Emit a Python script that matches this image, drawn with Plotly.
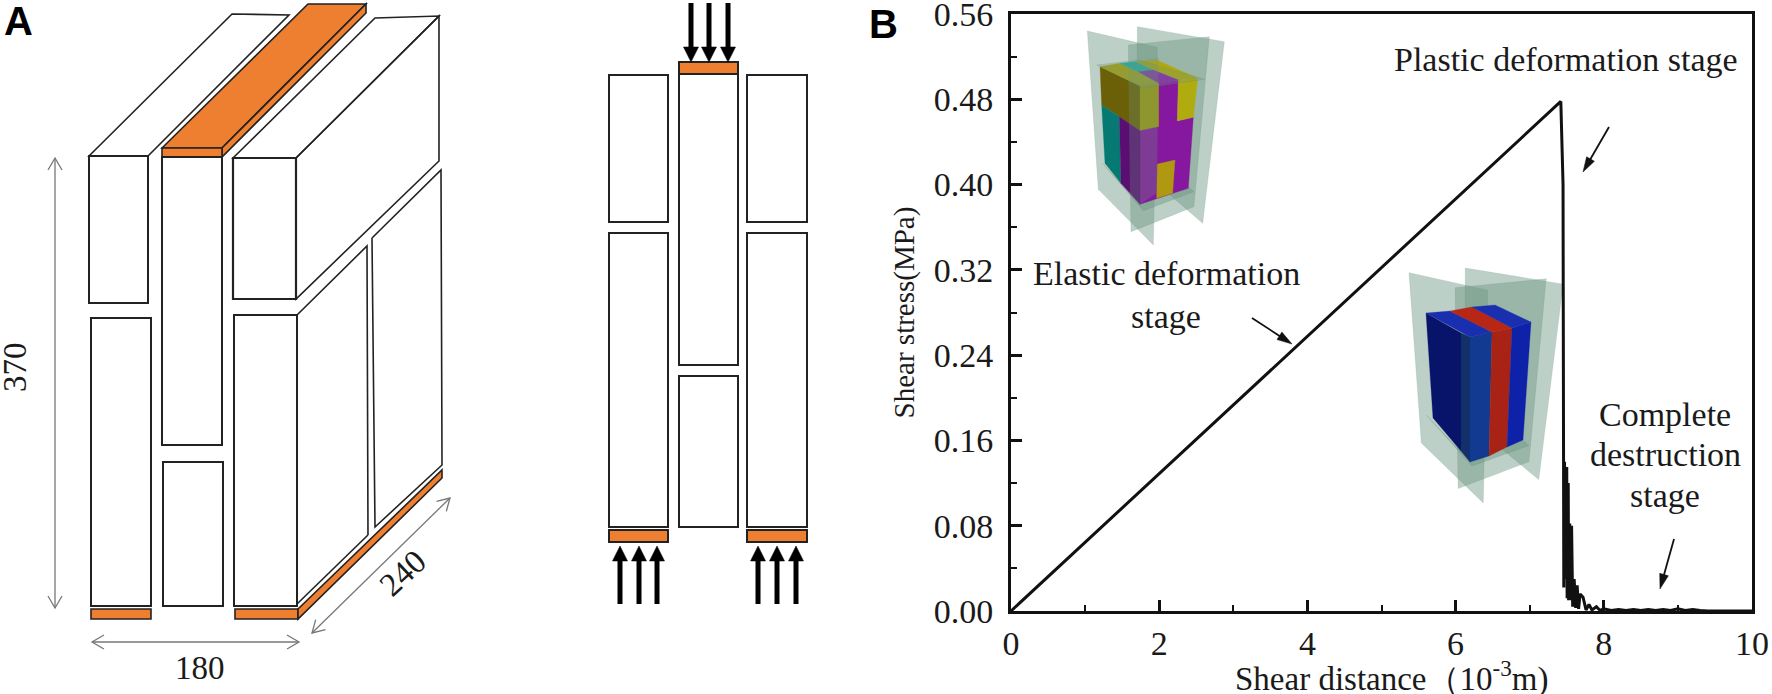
import plotly.graph_objects as go

W, H = 1772, 694

# ---------- chart data ----------
shear_distance = [0, 1.0, 2.0, 3.0, 4.0, 5.0, 6.0, 7.0, 7.42, 7.45, 7.46, 7.47, 7.485, 7.5, 7.505, 7.52, 7.525,
                  7.54, 7.55, 7.565, 7.58, 7.6, 7.62, 7.64, 7.66, 7.68, 7.72, 7.76, 7.8, 7.84, 7.9, 7.95, 8.0,
                  8.1, 8.2, 8.3, 8.4, 8.5, 8.6, 8.7, 8.8, 8.9, 9.0, 9.1, 9.2, 9.3, 9.4, 10.0]
shear_stress = [0, 0.0645, 0.129, 0.1935, 0.258, 0.3225, 0.387, 0.4515, 0.478, 0.40, 0.022, 0.14, 0.03, 0.135, 0.012,
                0.12, 0.01, 0.082, 0.01, 0.08, 0.004, 0.03, 0.003, 0.024, 0.002, 0.016, 0.013, 0.001, 0.006, 0.001, 0.004,
                0.0005, 0.002, 0.0005, 0.0015, 0.0005, 0.0015, 0.0005, 0.0015, 0.0005, 0.0015, 0.0005, 0.002, 0.0005, 0.0015, 0.0005, 0.0, 0.0]
x_ticks = [0, 2, 4, 6, 8, 10]
y_ticks = [0.00, 0.08, 0.16, 0.24, 0.32, 0.40, 0.48, 0.56]

SERIF = "Liberation Serif"
ORANGE = "#EE7F31"
INK = "#222222"
PLATE = "rgba(108,150,130,0.45)"

shapes, notes = [], []


def px(x):
    return x / W


def py(y):
    return 1 - y / H


def poly(points, fill="rgba(0,0,0,0)", line=INK, width=1.6, closed=True):
    d = "M " + " L ".join(f"{px(x):.5f},{py(y):.5f}" for x, y in points) + (" Z" if closed else "")
    shapes.append(dict(type="path", path=d, xref="paper", yref="paper", fillcolor=fill, layer="below",
                       line=dict(color=line, width=width)))


def rect(x0, y0, x1, y1, **kw):
    poly([(x0, y0), (x1, y0), (x1, y1), (x0, y1)], **kw)


def arrow(x0, y0, x1, y1, width=2.0, hl=14, hw=10, color="#111111", both=False, opened=False):
    dx, dy = x1 - x0, y1 - y0
    n = (dx * dx + dy * dy) ** 0.5
    ux, uy = dx / n, dy / n
    nx, ny = -uy, ux

    def head(tx, ty, sx, sy):
        a = (tx - sx * hl + nx * hw / 2, ty - sy * hl + ny * hw / 2)
        b = (tx - sx * hl - nx * hw / 2, ty - sy * hl - ny * hw / 2)
        if opened:
            poly([a, (tx, ty), b], line=color, width=width, closed=False)
        else:
            poly([a, (tx, ty), b], fill=color, line=color, width=0.5)

    sx1, sy1 = (x1, y1) if opened else (x1 - ux * hl * 0.9, y1 - uy * hl * 0.9)
    poly([(x0, y0), (sx1, sy1)], line=color, width=width, closed=False)
    head(x1, y1, ux, uy)
    if both:
        head(x0, y0, -ux, -uy)


def text(x, y, s, size=34, angle=0, family=SERIF, color="#1a1a1a"):
    notes.append(dict(x=px(x), y=py(y), xref="paper", yref="paper", text=s, showarrow=False, textangle=angle,
                      xanchor="center", yanchor="middle", font=dict(family=family, size=size, color=color)))


# ---------- panel A: 3D schematic ----------
poly([(89, 156), (232, 14), (289, 15), (148, 156)])
rect(89, 156, 148, 303, width=2)
rect(91, 318, 151, 606, width=2)
rect(91, 609, 151, 619, fill=ORANGE, width=1.6)
poly([(162, 148), (308, 4), (366, 4), (222, 148)], fill=ORANGE)
poly([(222, 148), (366, 4), (366, 13), (222, 157)], fill=ORANGE)
rect(162, 148, 222, 157, fill=ORANGE)
rect(162, 157, 222, 445, width=2)
rect(163, 462, 223, 606, width=2)
poly([(233, 158), (375, 18), (439, 16), (296, 158)])
poly([(296, 158), (439, 16), (439, 161), (296, 299)])
rect(233, 158, 296, 299, width=2.2)
rect(234, 315, 297, 606, width=2)
poly([(297, 315), (367, 246), (368, 535)], closed=False)
poly([(372, 238), (441, 170), (442, 465), (375, 527), (372, 238)], closed=False)
poly([(297, 604), (368, 535)], closed=False)
rect(235, 609, 298, 619, fill=ORANGE, width=1.6)
poly([(298, 609), (442, 470), (442, 478), (298, 619)], fill=ORANGE, width=1.6)
arrow(55, 158, 55, 608, width=1.3, hl=12, hw=14, color="#777777", both=True, opened=True)
arrow(92, 642, 299, 642, width=1.3, hl=12, hw=14, color="#777777", both=True, opened=True)
arrow(312, 633, 450, 498, width=1.3, hl=12, hw=14, color="#777777", both=True, opened=True)
text(15, 367, "370", size=33, angle=-90)
text(200, 668, "180", size=33)
text(403, 573, "240", size=33, angle=-43)
text(18, 21, "<b>A</b>", size=40, family="Liberation Sans", color="#000000")

# ---------- panel A: front view ----------
rect(609, 75, 668, 222, width=2)
rect(609, 233, 668, 527, width=2)
rect(609, 530, 668, 542, fill=ORANGE, width=2)
rect(679, 62, 738, 74, fill=ORANGE, width=2)
rect(679, 74, 738, 365, width=2)
rect(679, 376, 738, 527, width=2)
rect(747, 75, 807, 222, width=2)
rect(747, 233, 807, 527, width=2)
rect(747, 530, 807, 542, fill=ORANGE, width=2)
for xa in (691, 709, 728):
    arrow(xa, 3, xa, 62, width=5, hl=15, hw=15, color="#000000")
for xa in (620, 639, 657, 758, 777, 796):
    arrow(xa, 604, xa, 546, width=5, hl=15, hw=15, color="#000000")


# ---------- panel B: insets ----------
def z1(pts):
    return [(1060 + x / 3, 20 + y / 3) for x, y in pts]


def z2(pts):
    return [(1409 + (x - 82) / 3 * 1.125, 268 + (y - 20) / 3 * 1.076) for x, y in pts]


plates = [
    [(82, 33), (292, 82), (280, 675), (115, 508)],
    [(205, 75), (448, 50), (402, 560), (213, 635)],
    [(232, 20), (493, 65), (428, 610), (232, 440)],
    [(128, 430), (250, 572), (402, 515), (385, 500), (240, 553)],
]
top_plate = [(110, 135), (235, 120), (435, 178), (250, 205)]
front_band = [(205, 130), (297, 112), (290, 520), (240, 553), (210, 525)]
PLATE_EDGE = "rgba(90,130,110,0.25)"

for p in plates:
    poly(z1(p), fill=PLATE, line=PLATE_EDGE, width=0.6)
block1 = [
    ([(120, 140), (240, 197), (240, 332), (178, 290), (125, 255)], "#6b6008"),
    ([(240, 197), (297, 185), (297, 320), (240, 332)], "#9c9810"),
    ([(120, 140), (180, 130), (297, 185), (240, 197)], "#a8a00c"),
    ([(180, 130), (228, 125), (280, 150), (235, 155)], "#12b0a8"),
    ([(228, 125), (290, 120), (413, 175), (355, 180), (280, 150)], "#b0a80c"),
    ([(235, 155), (280, 150), (355, 180), (297, 190)], "#8a1cb0"),
    ([(240, 332), (297, 320), (297, 190), (355, 180), (352, 303), (400, 292), (385, 505), (240, 553)], "#85189e"),
    ([(355, 180), (413, 175), (400, 292), (352, 303)], "#b0ac10"),
    ([(292, 432), (345, 420), (338, 520), (290, 535)], "#b09810"),
    ([(125, 255), (178, 290), (183, 490), (135, 430)], "#067a72"),
    ([(178, 290), (240, 332), (240, 553), (183, 490)], "#5a0e72"),
]
for p, c in block1:
    poly(z1(p), fill=c, line=c, width=0.3)
poly(z1(front_band), fill="rgba(108,150,130,0.28)", line="rgba(0,0,0,0)", width=0)
poly(z1(top_plate), fill="rgba(108,150,130,0.30)", line=PLATE_EDGE, width=0.6)

for p in plates:
    poly(z2(p), fill=PLATE, line=PLATE_EDGE, width=0.6)
block2 = [
    ([(1426, 313), (1461, 333), (1461, 451), (1433, 418)], "#07146a"),
    ([(1461, 333), (1470, 337), (1470, 462), (1461, 451)], "#14306a"),
    ([(1470, 337), (1492, 332), (1489, 456), (1470, 462)], "#123a90"),
    ([(1492, 332), (1512, 328), (1507, 447), (1489, 456)], "#a82315"),
    ([(1512, 328), (1531, 322), (1523, 440), (1507, 447)], "#0d22a8"),
    ([(1426, 313), (1450, 311), (1492, 332), (1470, 337)], "#1a2fb0"),
    ([(1450, 311), (1472, 307), (1512, 328), (1492, 332)], "#b82616"),
    ([(1472, 307), (1495, 305), (1531, 322), (1512, 328)], "#1a2fb0"),
]
for p, c in block2:
    poly(p, fill=c, line=c, width=0.3)

# ---------- panel B: annotations ----------
text(1166, 273, "Elastic deformation")
text(1166, 316, "stage")
text(1566, 59, "Plastic deformation stage")
text(1665, 414, "Complete")
text(1665, 455, "destruction")
text(1665, 495, "stage")
arrow(1252, 318, 1292, 344, width=1.8, hl=15, hw=9, color="#111111")
arrow(1609, 127, 1583, 172, width=1.8, hl=15, hw=9, color="#111111")
arrow(1674, 539, 1660, 589, width=1.8, hl=15, hw=9, color="#111111")
text(883, 24, "<b>B</b>", size=40, family="Liberation Sans", color="#000000")
text(1391, 676, "Shear distance（10<sup>-3</sup>m)", size=33)

# ---------- figure ----------
fig = go.Figure(go.Scatter(x=shear_distance, y=shear_stress, mode="lines",
                           line=dict(color="#111111", width=3), showlegend=False, hoverinfo="skip"))

axis_common = dict(showgrid=False, zeroline=False, showline=True, mirror=True, linecolor="#111111", linewidth=3,
                   ticks="inside", ticklen=11, tickwidth=2.5, tickcolor="#111111", automargin=False,
                   ticklabeloverflow="allow",
                   tickfont=dict(family=SERIF, size=34, color="#1a1a1a"))
fig.update_xaxes(range=[0, 10], tickvals=x_ticks, ticktext=[str(v) for v in x_ticks],
                 domain=[px(1011), px(1752)], ticklabelstandoff=0,
                 minor=dict(dtick=1, ticks="inside", ticklen=6, tickwidth=2, tickcolor="#111111", showgrid=False),
                 **axis_common)
fig.update_yaxes(range=[0, 0.56], tickvals=y_ticks, ticktext=[f"{v:.2f}" for v in y_ticks],
                 domain=[py(611), py(14)], ticklabelstandoff=8,
                 minor=dict(dtick=0.04, ticks="inside", ticklen=6, tickwidth=2, tickcolor="#111111", showgrid=False),
                 title=dict(text="\u00a0" * 10 + "Shear stress(MPa)", standoff=11,
                            font=dict(family=SERIF, size=29, color="#1a1a1a")),
                 **axis_common)
fig.update_layout(width=W, height=H, autosize=False,
                  margin=dict(l=0, r=0, t=0, b=0, pad=0, autoexpand=False),
                  paper_bgcolor="white", plot_bgcolor="rgba(0,0,0,0)", shapes=shapes, annotations=notes,
                  font=dict(family=SERIF))
fig.write_html("out.html", config={"displayModeBar": False},
               post_script="document.body.style.margin='0';document.body.style.overflow='hidden';")
